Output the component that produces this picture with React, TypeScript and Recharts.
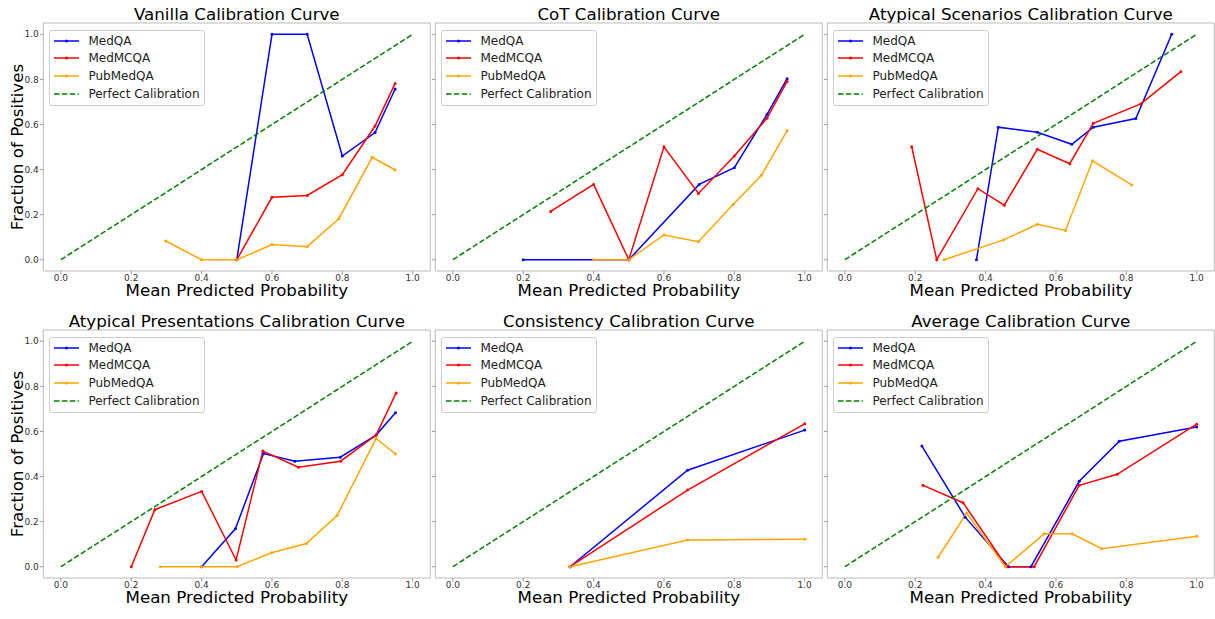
import React from 'react';
import { LineChart, Line, XAxis, YAxis, ReferenceArea, Legend } from 'recharts';

// [mean predicted probability, fraction of positives]
const vanillaMedQA = [[0.5, 0], [0.6, 1.0], [0.7, 1.0], [0.8, 0.46], [0.893, 0.564], [0.95, 0.757]];
const vanillaMedMCQA = [[0.5, 0], [0.6, 0.277], [0.7, 0.285], [0.8, 0.377], [0.893, 0.593], [0.95, 0.782]];
const vanillaPubMedQA = [[0.298, 0.083], [0.4, 0], [0.5, 0], [0.6, 0.067], [0.7, 0.058], [0.79, 0.182], [0.885, 0.454], [0.95, 0.398]];

const cotMedQA = [[0.2, 0], [0.5, 0], [0.7, 0.334], [0.8, 0.408], [0.893, 0.645], [0.95, 0.803]];
const cotMedMCQA = [[0.278, 0.214], [0.4, 0.334], [0.5, 0], [0.6, 0.501], [0.698, 0.294], [0.8, 0.46], [0.893, 0.628], [0.95, 0.791]];
const cotPubMedQA = [[0.4, 0], [0.5, 0], [0.6, 0.11], [0.698, 0.08], [0.797, 0.246], [0.877, 0.375], [0.95, 0.573]];

const scenariosMedQA = [[0.374, 0], [0.436, 0.588], [0.547, 0.565], [0.645, 0.512], [0.706, 0.588], [0.827, 0.626], [0.929, 1.0]];
const scenariosMedMCQA = [[0.19, 0.501], [0.261, 0], [0.378, 0.315], [0.453, 0.242], [0.547, 0.49], [0.639, 0.426], [0.706, 0.605], [0.841, 0.691], [0.955, 0.834]];
const scenariosPubMedQA = [[0.282, 0], [0.451, 0.088], [0.547, 0.157], [0.627, 0.13], [0.704, 0.439], [0.815, 0.332]];

const presentationsMedQA = [[0.4, 0], [0.496, 0.168], [0.576, 0.502], [0.665, 0.468], [0.794, 0.486], [0.896, 0.584], [0.951, 0.683]];
const presentationsMedMCQA = [[0.2, 0], [0.267, 0.253], [0.4, 0.334], [0.498, 0.03], [0.574, 0.513], [0.675, 0.441], [0.795, 0.468], [0.896, 0.584], [0.953, 0.771]];
const presentationsPubMedQA = [[0.283, 0], [0.4, 0], [0.5, 0], [0.599, 0.062], [0.698, 0.103], [0.785, 0.227], [0.896, 0.569], [0.951, 0.5]];

const consistencyMedQA = [[0.333, 0], [0.667, 0.428], [1.0, 0.606]];
const consistencyMedMCQA = [[0.333, 0], [0.667, 0.34], [1.0, 0.634]];
const consistencyPubMedQA = [[0.333, 0], [0.667, 0.119], [1.0, 0.122]];

const averageMedQA = [[0.219, 0.535], [0.342, 0.22], [0.465, 0], [0.529, 0], [0.666, 0.379], [0.78, 0.557], [1.0, 0.62]];
const averageMedMCQA = [[0.222, 0.361], [0.336, 0.284], [0.46, 0], [0.538, 0], [0.666, 0.361], [0.774, 0.41], [1.0, 0.632]];
const averagePubMedQA = [[0.265, 0.042], [0.346, 0.238], [0.456, 0], [0.566, 0.146], [0.646, 0.146], [0.73, 0.08], [1.0, 0.135]];

const perfect = [[0, 0], [1, 1]];

const ticks = [0, 0.2, 0.4, 0.6, 0.8, 1.0];
const seriesNames = ['MedQA', 'MedMCQA', 'PubMedQA'];
const seriesColors = ['#0000ff', '#ff0000', '#ffa500'];
const legendOrder = [...seriesNames, 'Perfect Calibration'];

const panels = [
  { title: 'Vanilla Calibration Curve', series: [vanillaMedQA, vanillaMedMCQA, vanillaPubMedQA] },
  { title: 'CoT Calibration Curve', series: [cotMedQA, cotMedMCQA, cotPubMedQA] },
  { title: 'Atypical Scenarios Calibration Curve', series: [scenariosMedQA, scenariosMedMCQA, scenariosPubMedQA] },
  { title: 'Atypical Presentations Calibration Curve', series: [presentationsMedQA, presentationsMedMCQA, presentationsPubMedQA] },
  { title: 'Consistency Calibration Curve', series: [consistencyMedQA, consistencyMedMCQA, consistencyPubMedQA] },
  { title: 'Average Calibration Curve', series: [averageMedQA, averageMedMCQA, averagePubMedQA] },
];

const FONT = '"DejaVu Sans", sans-serif';
const FRAME_LEFTS = [43.3, 435.3, 827.3];
const FRAME_TOPS = [23, 330];
const FRAME_W = 387;
const FRAME_H = 248;
const Y_W = 43.3;
const TOP = 23;
const X_H = 35;

const toPoints = (pairs: number[][]) => pairs.map(([x, y]) => ({ x, y }));

const LegendBox = (props: any) => {
  const items = [...(props.payload || [])].sort(
    (a: any, b: any) => legendOrder.indexOf(a.value) - legendOrder.indexOf(b.value)
  );
  return (
    <div
      style={{
        background: 'rgba(255,255,255,0.8)',
        border: '1px solid #cccccc',
        borderRadius: 3,
        padding: '1px 4px 2.6px 4px',
        fontFamily: FONT,
        fontSize: 12,
        color: '#222',
        whiteSpace: 'nowrap',
      }}
    >
      {items.map((entry: any) => {
        const dashed = entry.value === 'Perfect Calibration';
        return (
          <div key={entry.value} style={{ height: 17.6, display: 'flex', alignItems: 'center' }}>
            <svg width={25} height={10} style={{ marginRight: 9.4 }}>
              <line x1={0} y1={5} x2={25} y2={5} stroke={entry.color} strokeWidth={1.5} strokeDasharray={dashed ? '5.5 2.4' : undefined} />
              {!dashed && <circle cx={12.5} cy={5} r={1.5} fill={entry.color} />}
            </svg>
            <span>{entry.value}</span>
          </div>
        );
      })}
    </div>
  );
};

const Panel = ({ index }: { index: number }) => {
  const panel = panels[index];
  const col = index % 3;
  const row = Math.floor(index / 3);
  const frameLeft = FRAME_LEFTS[col];
  const frameTop = FRAME_TOPS[row];
  const width = Y_W + FRAME_W + 1;
  const height = TOP + FRAME_H + X_H;

  return (
    <>
      <div
        style={{
          position: 'absolute',
          left: frameLeft,
          width: FRAME_W,
          top: frameTop - 18.6,
          textAlign: 'center',
          fontSize: 16.7,
          lineHeight: '20px',
          color: '#000',
          whiteSpace: 'nowrap',
        }}
      >
        {panel.title}
      </div>
      <div style={{ position: 'absolute', left: frameLeft - Y_W, top: frameTop - TOP }}>
        <LineChart width={width} height={height} margin={{ top: TOP, right: 1, left: 0, bottom: 0 }}>
          <XAxis
            dataKey="x"
            type="number"
            domain={[-0.05, 1.05]}
            allowDataOverflow
            ticks={ticks}
            tickFormatter={(v: number) => v.toFixed(1)}
            axisLine={false}
            tickLine={{ stroke: '#999' }}
            tickSize={3.5}
            tickMargin={0.5}
            tick={{ fontSize: 9, fill: '#333', fontFamily: FONT }}
            height={X_H}
            label={{ value: 'Mean Predicted Probability', position: 'insideBottom', offset: 9.5, style: { fontSize: 16.7, fill: '#000', fontFamily: FONT } }}
          />
          <YAxis
            dataKey="y"
            type="number"
            domain={[-0.05, 1.05]}
            allowDataOverflow
            ticks={ticks}
            tickFormatter={(v: number) => (col === 0 ? v.toFixed(1) : '')}
            axisLine={false}
            tickLine={{ stroke: '#999' }}
            tickSize={3.5}
            tickMargin={1}
            tick={{ fontSize: 9, fill: '#333', fontFamily: FONT }}
            width={Y_W}
            label={
              col === 0
                ? { value: 'Fraction of Positives', angle: -90, position: 'insideLeft', offset: 17, style: { textAnchor: 'middle', fontSize: 16.7, fill: '#000', fontFamily: FONT } }
                : undefined
            }
          />
          <ReferenceArea x1={-0.05} x2={1.05} y1={-0.05} y2={1.05} fill="none" fillOpacity={0} stroke="#bbbbbb" strokeWidth={1} ifOverflow="visible" />
          {panel.series.map((pairs, i) => (
            <Line
              key={seriesNames[i]}
              data={toPoints(pairs)}
              dataKey="y"
              name={seriesNames[i]}
              type="linear"
              stroke={seriesColors[i]}
              strokeWidth={1.5}
              dot={{ r: 1.5, fill: seriesColors[i], stroke: 'none' }}
              activeDot={false}
              isAnimationActive={false}
            />
          ))}
          <Line
            data={toPoints(perfect)}
            dataKey="y"
            name="Perfect Calibration"
            type="linear"
            stroke="#008000"
            strokeWidth={1.5}
            strokeDasharray="5.5 2.4"
            dot={false}
            activeDot={false}
            isAnimationActive={false}
          />
          <Legend
            layout="horizontal"
            verticalAlign="middle"
            align="center"
            content={LegendBox}
            wrapperStyle={{ left: Y_W + 5.7, top: TOP + 7, width: 'auto', height: 'auto' }}
          />
        </LineChart>
      </div>
    </>
  );
};

export default function App() {
  return (
    <div
      style={{
        position: 'absolute',
        left: 0,
        top: 0,
        width: 1215,
        height: 619,
        overflow: 'hidden',
        background: '#fff',
        fontFamily: FONT,
      }}
    >
      {panels.map((_, i) => (
        <Panel key={i} index={i} />
      ))}
    </div>
  );
}
